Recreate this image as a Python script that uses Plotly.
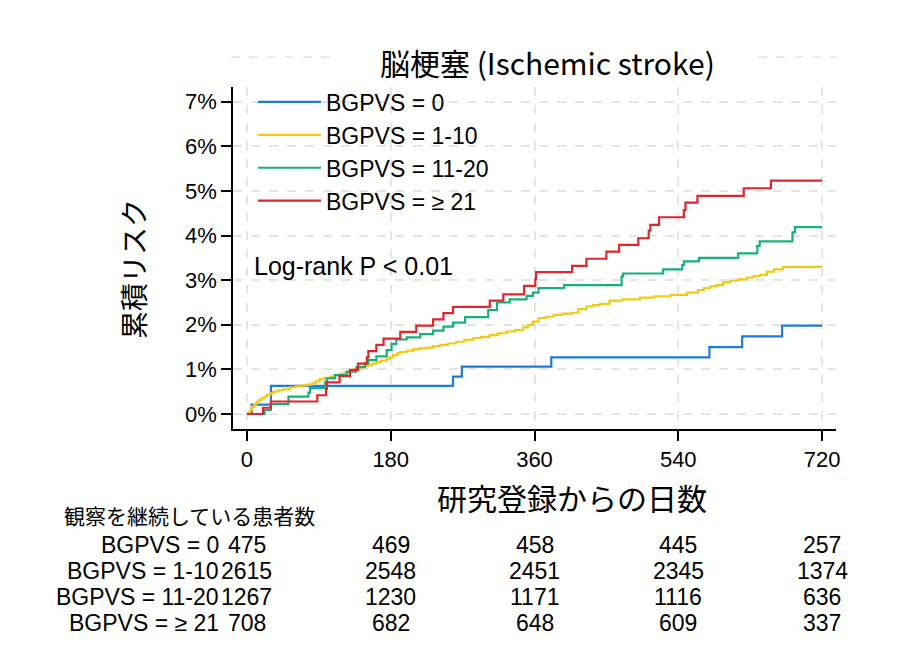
import plotly.graph_objects as go

# ---------------- data ----------------
groups = ["BGPVS = 0", "BGPVS = 1-10", "BGPVS = 11-20", "BGPVS = ≥ 21"]
colors = ["#1E7BD8", "#F2C914", "#18B07A", "#E1262B"]

days_0 = [0, 6, 30, 258, 269, 381, 579, 620, 670, 720]
risk_0 = [0, 0.21, 0.63, 0.84, 1.06, 1.27, 1.50, 1.74, 1.98, 1.98]

days_1_10 = [0, 2, 4, 6, 9, 12, 15, 18, 22, 25, 29, 33, 39, 45, 54, 61, 68, 75, 81, 86,
             91, 97, 104, 110, 116, 122, 129, 135, 141, 147, 152, 157, 162, 168, 175, 179,
             183, 188, 192, 200, 208, 216, 225, 233, 242, 252, 262, 272, 283, 293, 304, 314,
             325, 335, 346, 352, 358, 365, 374, 384, 395, 407, 415, 425, 433, 442, 454, 470,
             492, 510, 530, 551, 565, 572, 580, 588, 596, 605, 615, 626, 634, 642, 651, 660,
             671, 720]
risk_1_10 = [0, 0.04, 0.09, 0.16, 0.22, 0.28, 0.31, 0.35, 0.39, 0.43, 0.47, 0.50, 0.53, 0.55,
             0.60, 0.62, 0.64, 0.66, 0.69, 0.73, 0.78, 0.81, 0.84, 0.87, 0.90, 0.93, 0.96, 1.00,
             1.05, 1.08, 1.10, 1.13, 1.17, 1.20, 1.23, 1.27, 1.32, 1.36, 1.39, 1.42, 1.45, 1.47,
             1.49, 1.52, 1.55, 1.58, 1.62, 1.66, 1.70, 1.73, 1.77, 1.81, 1.85, 1.88, 1.94, 2.00,
             2.07, 2.15, 2.18, 2.22, 2.25, 2.27, 2.35, 2.41, 2.44, 2.47, 2.54, 2.57, 2.61, 2.64,
             2.67, 2.72, 2.78, 2.82, 2.86, 2.89, 2.95, 2.99, 3.02, 3.06, 3.09, 3.12, 3.19, 3.24,
             3.30, 3.30]

days_11_20 = [0, 22, 30, 52, 77, 79, 98, 100, 110, 125, 137, 148, 152, 162, 175, 181, 187,
              200, 217, 233, 246, 258, 273, 302, 313, 329, 350, 358, 365, 397, 469, 471, 521,
              545, 547, 566, 615, 639, 642, 683, 686, 720]
risk_11_20 = [0, 0.09, 0.22, 0.39, 0.48, 0.58, 0.72, 0.80, 0.87, 0.95, 1.05, 1.14, 1.21, 1.29,
              1.43, 1.57, 1.67, 1.72, 1.79, 1.87, 1.96, 2.05, 2.17, 2.33, 2.50, 2.57, 2.65, 2.72,
              2.82, 2.89, 3.08, 3.15, 3.24, 3.34, 3.42, 3.50, 3.60, 3.77, 3.87, 4.07, 4.19, 4.19]

days_21 = [0, 20, 30, 88, 99, 100, 116, 129, 139, 150, 152, 162, 171, 192, 212, 233, 246,
           258, 304, 321, 347, 361, 362, 407, 425, 450, 466, 490, 503, 505, 516, 547, 549, 564,
           622, 656, 720]
risk_21 = [0, 0.14, 0.28, 0.42, 0.56, 0.71, 0.85, 0.99, 1.13, 1.27, 1.41, 1.55, 1.69, 1.84,
           1.98, 2.12, 2.26, 2.40, 2.54, 2.68, 2.87, 3.03, 3.18, 3.32, 3.48, 3.64, 3.79, 3.94,
           4.11, 4.24, 4.41, 4.57, 4.74, 4.89, 5.06, 5.23, 5.23]

tick_days = [0, 180, 360, 540, 720]
y_ticks = [0, 1, 2, 3, 4, 5, 6, 7]
y_tick_labels = [f"{v}%" for v in y_ticks]

at_risk_0 = [475, 469, 458, 445, 257]
at_risk_1_10 = [2615, 2548, 2451, 2345, 1374]
at_risk_11_20 = [1267, 1230, 1171, 1116, 636]
at_risk_21 = [708, 682, 648, 609, 337]

title_text = "脳梗塞 (Ischemic stroke)"
y_title = "累積リスク"
x_title = "研究登録からの日数"
table_title = "観察を継続している患者数"
pvalue_text = "Log-rank P < 0.01"

# ---------------- layout helpers ----------------
W, H = 909, 665
L, R, T, B = 233, 836, 87, 429
X_RANGE = [-17.5, 737.5]
Y_RANGE = [-0.336, 7.33]
LAT = "Liberation Sans, Arial, Helvetica, sans-serif"
CJK = "Noto Sans CJK JP, sans-serif"


def px(x):
    return (x - L) / (R - L)


def py(y):
    return (B - y) / (B - T)


series = [(days_0, risk_0), (days_1_10, risk_1_10), (days_11_20, risk_11_20), (days_21, risk_21)]
at_risk = [at_risk_0, at_risk_1_10, at_risk_11_20, at_risk_21]

fig = go.Figure()
for name, col, (d, r) in zip(groups, colors, series):
    fig.add_trace(go.Scatter(x=d, y=r, mode="lines", name=name,
                             line=dict(color=col, width=2.2, shape="hv")))

grid = dict(showgrid=True, gridcolor="#e4e4e4", gridwidth=1.5, griddash="dash", zeroline=False)
fig.update_xaxes(range=X_RANGE, tickvals=tick_days, ticks="outside", ticklen=10, tickwidth=1.5,
                 tickcolor="black", showline=True, linecolor="black", linewidth=1.5,
                 tickfont=dict(family=LAT, size=22, color="black"), **grid)
fig.update_yaxes(range=Y_RANGE, tickvals=y_ticks, ticktext=y_tick_labels, ticks="outside",
                 ticklen=10, tickwidth=1.5, tickcolor="black", showline=True, linecolor="black",
                 linewidth=1.5, tickfont=dict(family=LAT, size=22, color="black"), **grid)

# extra dashed gridline at 8% above the axis (broken around the title)
y8 = (8 - Y_RANGE[0]) / (Y_RANGE[1] - Y_RANGE[0])
for a, b in [(231, 337), (758, 837)]:
    fig.add_shape(type="line", xref="paper", yref="paper", x0=px(a), x1=px(b), y0=y8, y1=y8,
                  line=dict(color="#e4e4e4", width=1.5, dash="dash"))

ann = []
ann.append(dict(text=title_text, x=px(547), y=py(62), xref="paper", yref="paper",
                xanchor="center", yanchor="middle", showarrow=False,
                font=dict(family=CJK, size=30, color="black")))
ann.append(dict(text=y_title, x=px(133), y=py(269), xref="paper", yref="paper", textangle=-90,
                xanchor="center", yanchor="middle", showarrow=False,
                font=dict(family=CJK, size=28, color="black")))
ann.append(dict(text=x_title, x=px(572), y=py(497), xref="paper", yref="paper",
                xanchor="center", yanchor="middle", showarrow=False,
                font=dict(family=CJK, size=30, color="black")))
ann.append(dict(text=pvalue_text, x=px(252), y=py(266), xref="paper", yref="paper",
                xanchor="left", yanchor="middle", showarrow=False,
                font=dict(family=LAT, size=25, color="black")))
ann.append(dict(text=table_title, x=px(62), y=py(515), xref="paper", yref="paper",
                xanchor="left", yanchor="middle", showarrow=False,
                font=dict(family=CJK, size=21, color="black")))
row_y = [545, 571, 597, 623]
for name, counts, ry in zip(groups, at_risk, row_y):
    ann.append(dict(text=name, x=px(221), y=py(ry), xref="paper", yref="paper",
                    xanchor="right", yanchor="middle", showarrow=False,
                    font=dict(family=LAT, size=23, color="black")))
    for dday, c in zip(tick_days, counts):
        ann.append(dict(text=str(c), x=dday, y=py(ry), xref="x", yref="paper",
                        xanchor="center", yanchor="middle", showarrow=False,
                        font=dict(family=LAT, size=23, color="black")))

fig.update_layout(
    width=W, height=H, autosize=False,
    margin=dict(l=L, r=W - R, t=T, b=H - B, pad=0),
    paper_bgcolor="white", plot_bgcolor="white",
    showlegend=True,
    legend=dict(x=px(253), y=py(80.5), xanchor="left", yanchor="top",
                bgcolor="rgba(0,0,0,0)", borderwidth=0, itemwidth=63,
                font=dict(family=LAT, size=23, color="black"), tracegroupgap=0),
    annotations=ann,
)

fig.write_html("out.html")
